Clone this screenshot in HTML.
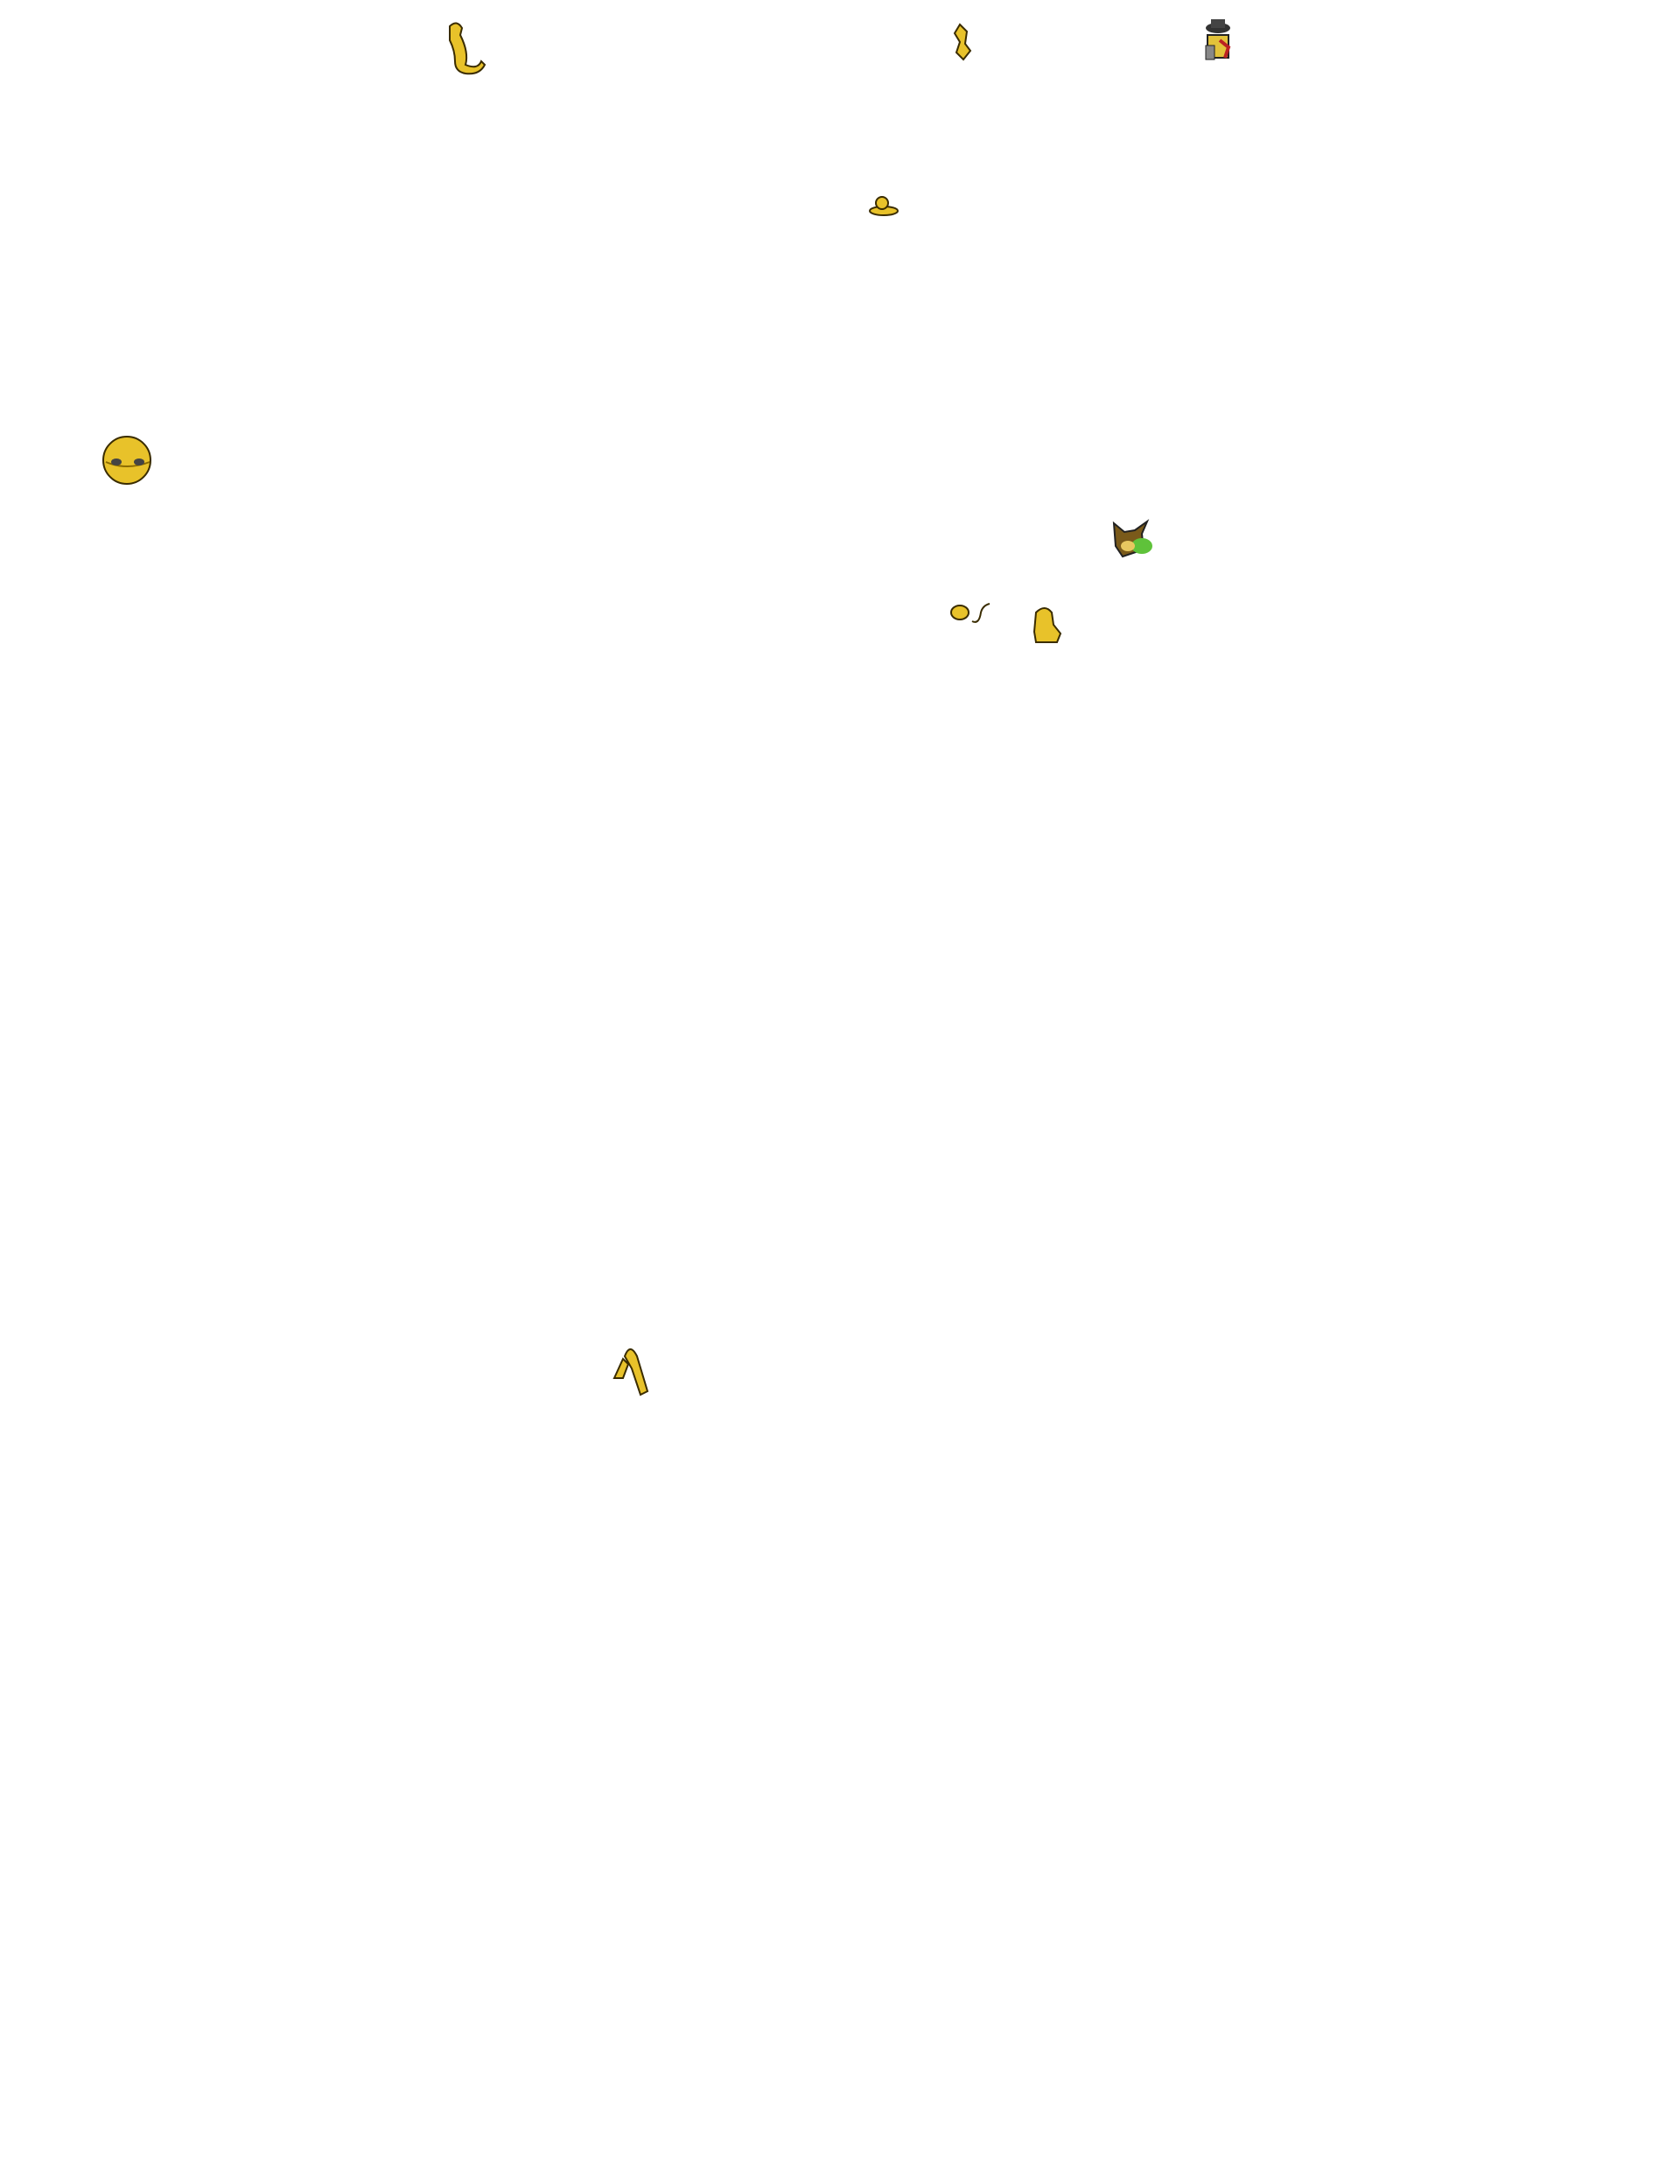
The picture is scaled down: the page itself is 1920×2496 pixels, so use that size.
<!DOCTYPE html>
<html><head><style>
html,body{margin:0;padding:0;background:#fff;width:1920px;height:2496px;overflow:hidden;position:relative}
.s{position:absolute}
</style></head><body>
<svg class="s" style="left:0;top:0" width="1920" height="2496">
<g stroke="#3a2c00" stroke-width="2" fill="#e8c22a">
<path d="M514 30 q8 -8 14 2 l-2 8 q10 20 6 34 q14 6 18 -4 l4 4 q-6 12 -22 10 q-12 -2 -12 -14 q0 -12 -6 -24 z"/>
<path d="M1097 28 l8 8 l-2 14 l6 8 l-8 10 l-8 -8 l4 -12 l-6 -10 z"/>
<ellipse cx="1010" cy="241" rx="16" ry="5"/>
<circle cx="1008" cy="232" r="7"/>
<circle cx="145" cy="526" r="27"/>
<path d="M1111 710 q8 4 10 -10 q2 -8 10 -10" fill="none"/>
<ellipse cx="1097" cy="700" rx="10" ry="8"/>
<path d="M1184 700 q10 -10 18 0 l2 14 l8 10 l-4 10 l-24 0 l-2 -12 z"/>
<path d="M702 1575 l10 -22 l6 6 l-6 16 z M714 1550 q6 -16 14 0 l12 40 l-8 4 l-10 -30 z"/>
</g>
<path d="M121 528 q24 10 50 0" stroke="#8a6a00" stroke-width="2" fill="none"/>
<ellipse cx="133" cy="528" rx="6" ry="4" fill="#444"/>
<ellipse cx="159" cy="528" rx="6" ry="4" fill="#444"/>
<rect x="1380" y="40" width="24" height="26" fill="#e2c23a" stroke="#222" stroke-width="2"/>
<ellipse cx="1392" cy="32" rx="14" ry="6" fill="#333"/>
<rect x="1384" y="22" width="16" height="10" fill="#444"/>
<rect x="1378" y="52" width="10" height="16" fill="#888" stroke="#222"/>
<path d="M1394 46 l10 8 l-4 12" stroke="#b22" stroke-width="4" fill="none"/>
<path d="M1273 598 l12 10 l12 -2 l14 -10 l-6 14 l2 18 l-24 8 l-8 -12 z" fill="#7a5a1a" stroke="#222" stroke-width="2"/>
<ellipse cx="1305" cy="624" rx="12" ry="9" fill="#5fc23a"/>
<ellipse cx="1289" cy="624" rx="8" ry="6" fill="#e8c860"/>
</svg>
</body></html>
